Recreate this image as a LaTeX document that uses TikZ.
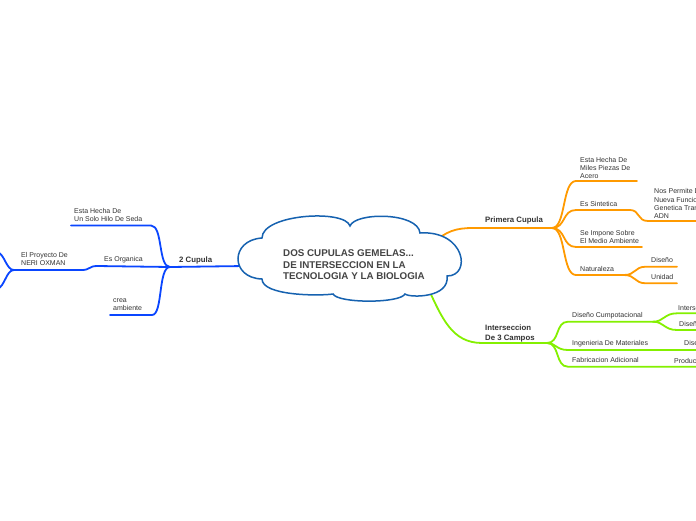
\documentclass[tikz,border=0pt]{standalone}
\usepackage{fontspec}
\setmainfont{Liberation Sans}
\definecolor{cblue}{HTML}{0A46FF}
\definecolor{corange}{HTML}{FF9A00}
\definecolor{cgreen}{HTML}{84F000}
\definecolor{ccloud}{HTML}{1662B0}
\definecolor{ctext}{HTML}{333333}
\definecolor{ctitle}{HTML}{444444}
\begin{document}
\begin{tikzpicture}[x=1pt,y=-1pt,
  lbl/.style={anchor=base west, inner sep=0pt, font=\fontsize{7}{8.2}\selectfont, text=ctext, align=left},
  blbl/.style={lbl, font=\fontsize{7.8}{9.4}\selectfont\bfseries},
  br/.style={line width=1.8pt, line cap=round},
  bbr/.style={br, draw=cblue},
  obr/.style={br, draw=corange},
  gbr/.style={br, draw=cgreen}]
\useasboundingbox (0,0) rectangle (696,520);
\clip (0,0) rectangle (696,520);
\fill[white] (0,0) rectangle (696,520);

% ---------- coordinates ----------
\coordinate (cloudL) at (245,266);
\coordinate (cloudR) at (432,244);
\coordinate (cloudB) at (428,288);
\coordinate (bhub) at (170,267);
\coordinate (b1e) at (151,225.5);
\coordinate (b1s) at (71,225.5);
\coordinate (b2e) at (97,266);
\coordinate (b2s) at (82,270);
\coordinate (b3e) at (152,315);
\coordinate (b3s) at (110,315);
\coordinate (phub) at (14,270);
\coordinate (pup) at (-3,252);
\coordinate (pdn) at (-3,289);
\coordinate (ostart) at (473,228);
\coordinate (ohub) at (552,228);
\coordinate (o1e) at (576,181);
\coordinate (o1s) at (637,181);
\coordinate (o2e) at (576,210);
\coordinate (o2m) at (630,210);
\coordinate (o3e) at (648,221);
\coordinate (o3s) at (700,221);
\coordinate (o4e) at (576,247);
\coordinate (o4s) at (642,247);
\coordinate (o5e) at (576,275);
\coordinate (nhub) at (624,275);
\coordinate (o6e) at (646,266.7);
\coordinate (o6s) at (677,266.7);
\coordinate (o7e) at (646,283.3);
\coordinate (o7s) at (677,283.3);
\coordinate (gstart) at (482,343);
\coordinate (ghub) at (547,343);
\coordinate (g1e) at (568,321.7);
\coordinate (dhub) at (653,321.7);
\coordinate (g2e) at (677,313.3);
\coordinate (g2s) at (700,313.3);
\coordinate (g3e) at (677,330);
\coordinate (g3s) at (700,330);
\coordinate (g4e) at (568,350);
\coordinate (g4s) at (700,350);
\coordinate (g6e) at (568,366.7);
\coordinate (g6s) at (700,366.7);

% ---------- blue branch ----------
\draw[bbr] (cloudL) -- (bhub);
\draw[bbr] (bhub) .. controls (158,267) and (163,225.5) .. (b1e) -- (b1s);
\draw[bbr] (bhub) -- (b2e) .. controls (89,266) and (90,270) .. (b2s) -- (phub);
\draw[bbr] (bhub) .. controls (158,267) and (163,315) .. (b3e) -- (b3s);
\draw[bbr] (phub) .. controls (6,270) and (5,254) .. (pup);
\draw[bbr] (phub) .. controls (6,270) and (5,287) .. (pdn);

% ---------- orange branch ----------
\draw[obr] (cloudR) .. controls (446,231) and (456,228) .. (ostart) -- (ohub);
\draw[obr] (ohub) .. controls (566,228) and (562,181) .. (o1e) -- (o1s);
\draw[obr] (ohub) .. controls (566,228) and (562,210) .. (o2e) -- (o2m)
   .. controls (640,210) and (637,221) .. (o3e) -- (o3s);
\draw[obr] (ohub) .. controls (566,228) and (562,247) .. (o4e) -- (o4s);
\draw[obr] (ohub) .. controls (566,228) and (562,275) .. (o5e) -- (nhub);
\draw[obr] (nhub) .. controls (636,275) and (634,266.7) .. (o6e) -- (o6s);
\draw[obr] (nhub) .. controls (636,275) and (634,283.3) .. (o7e) -- (o7s);

% ---------- green branch ----------
\draw[gbr] (cloudB) .. controls (442,318) and (452,343) .. (gstart) -- (ghub);
\draw[gbr] (ghub) .. controls (560,343) and (555,321.7) .. (g1e) -- (dhub);
\draw[gbr] (dhub) .. controls (664,321.7) and (664,313.3) .. (g2e) -- (g2s);
\draw[gbr] (dhub) .. controls (664,321.7) and (664,330) .. (g3e) -- (g3s);
\draw[gbr] (ghub) .. controls (556,343) and (556,350) .. (g4e) -- (g4s);
\draw[gbr] (ghub) .. controls (560,343) and (555,366.7) .. (g6e) -- (g6s);

% ---------- cloud ----------
\draw[draw=ccloud, line width=1.5pt, fill=white]
  (262,238) .. controls (262,214) and (345,209) .. (350,226)
  .. controls (355,212) and (418,212) .. (420,233)
  .. controls (465,230) and (472,276) .. (447,276)
  .. controls (450,298) and (410,298) .. (405,294)
  .. controls (400,303.5) and (338,303.5) .. (333,294)
  .. controls (320,296) and (262,296) .. (262,279)
  .. controls (230,278) and (230,240) .. cycle;
\node[anchor=base west, inner sep=0pt, align=left, text=ctitle,
  font=\fontsize{9.8}{11.2}\selectfont\bfseries] (title) at (283,279.2)
  {DOS CUPULAS GEMELAS...\\DE INTERSECCION EN LA\\TECNOLOGIA Y LA BIOLOGIA};

% ---------- labels ----------
\node[blbl] (c2) at (179,262) {2 Cupula};
\node[lbl] (t1) at (74,221.5) {Esta Hecha De\\Un Solo Hilo De Seda};
\node[lbl] (t2) at (104,261.5) {Es Organica};
\node[lbl] (t3) at (113,310.5) {crea\\ambiente};
\node[lbl] (t4) at (21,265.5) {El Proyecto De\\NERI OXMAN};

\node[blbl] (c1) at (485,222) {Primera Cupula};
\node[lbl] (o1) at (580,178.5) {Esta Hecha De\\Miles Piezas De\\Acero};
\node[lbl] (o2) at (580,206.5) {Es Sintetica};
\node[lbl] (o3) at (654,218.5) {Nos Permite Dar\\Nueva Funcion\\Genetica Transgenica\\ADN};
\node[lbl] (o4) at (580,243.5) {Se Impone Sobre\\El Medio Ambiente};
\node[lbl] (o5) at (580,271.8) {Naturaleza};
\node[lbl] (o6) at (651,262.5) {Diseño};
\node[lbl] (o7) at (651,279.8) {Unidad};

\node[blbl] (c3) at (485,340) {Interseccion\\De 3 Campos};
\node[lbl] (g1) at (572,317.5) {Diseño Cumpotacional};
\node[lbl] (g2) at (678,310) {Interseccion};
\node[lbl] (g3) at (679,326.5) {Diseño};
\node[lbl] (g4) at (572,345.8) {Ingenieria De Materiales};
\node[lbl] (g5) at (684,345.5) {Diseño};
\node[lbl] (g6) at (572,362.5) {Fabricacion Adicional};
\node[lbl] (g7) at (674,363) {Produccion};
\end{tikzpicture}
\end{document}
